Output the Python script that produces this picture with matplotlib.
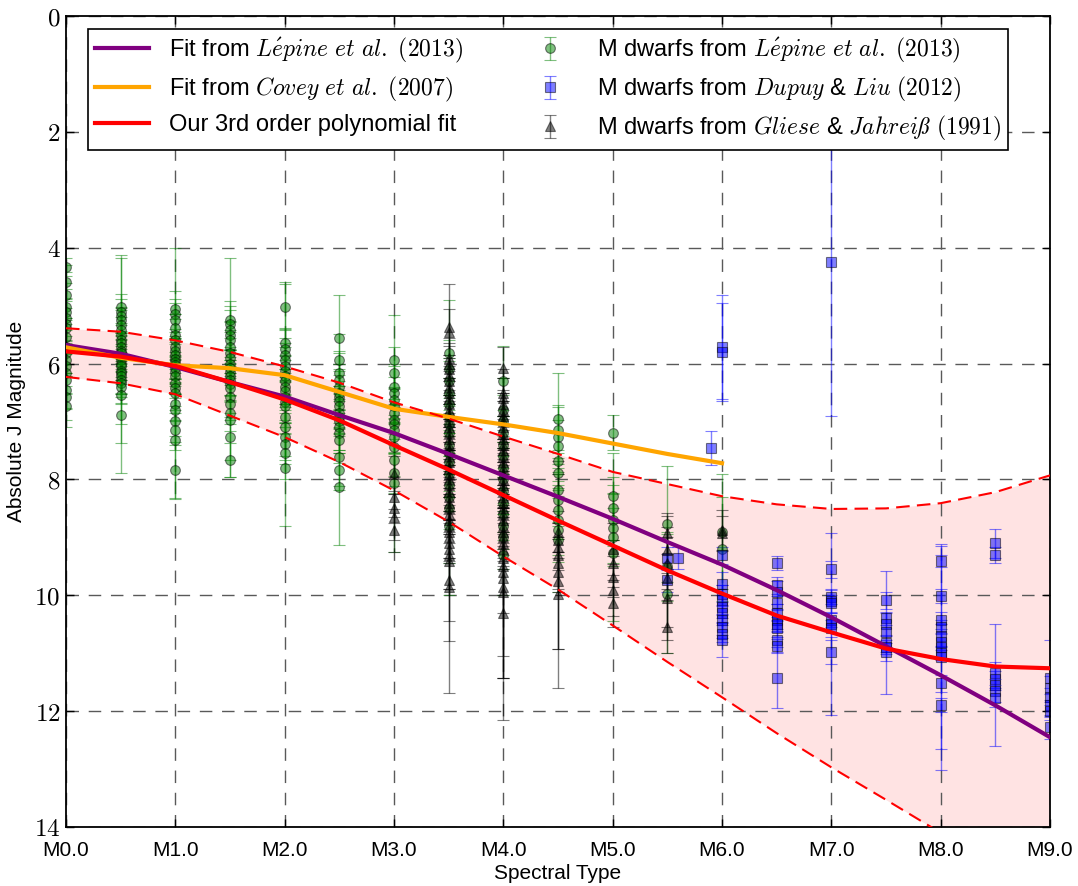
import numpy as np
import matplotlib
matplotlib.use('Agg')
import matplotlib.pyplot as plt
from matplotlib.ticker import FuncFormatter

# fit curves at every half subtype
fit_spt = [0.0, 0.5, 1.0, 1.5, 2.0, 2.5, 3.0, 3.5, 4.0, 4.5, 5.0, 5.5, 6.0, 6.5, 7.0, 7.5, 8.0, 8.5, 9.0]
lepine_fit = [5.68, 5.83, 6.06, 6.32, 6.57, 6.89, 7.20, 7.56, 7.93, 8.30, 8.68, 9.08, 9.47, 9.91, 10.38, 10.88, 11.38, 11.90, 12.45]
our_fit = [5.79, 5.88, 6.04, 6.32, 6.62, 6.98, 7.41, 7.83, 8.27, 8.71, 9.14, 9.57, 9.97, 10.35, 10.64, 10.92, 11.10, 11.23, 11.26]
our_upper = [5.39, 5.45, 5.60, 5.80, 6.05, 6.33, 6.67, 6.95, 7.26, 7.56, 7.87, 8.08, 8.29, 8.43, 8.51, 8.50, 8.41, 8.22, 7.93]
our_lower = [6.23, 6.34, 6.53, 6.90, 7.27, 7.70, 8.19, 8.73, 9.33, 9.90, 10.52, 11.15, 11.76, 12.38, 12.97, 13.53, 14.10, 14.70, 15.30]
covey_spt = [0.0, 0.5, 1.0, 1.5, 2.0, 2.5, 3.0, 3.5, 4.0, 4.5, 5.0, 5.5, 6.0]
covey_fit = [5.72, 5.90, 6.03, 6.08, 6.20, 6.49, 6.78, 6.92, 7.05, 7.20, 7.38, 7.56, 7.72]

# Lepine et al. (2013) M dwarfs
lepine_spt = [0.0, 0.5, 1.0, 1.5, 2.0, 2.5, 3.0, 3.5, 4.0, 4.5, 5.0, 5.5, 6.0]
lepine_mj = [
    [4.33, 4.59, 4.82, 5.02, 5.11, 5.22, 5.31, 5.39, 5.54, 5.71, 5.82, 5.94, 6.05, 6.17, 6.28, 6.46, 6.57, 6.74],
    [5.02, 5.11, 5.18, 5.25, 5.33, 5.42, 5.50, 5.59, 5.65, 5.71, 5.78, 5.82, 5.88, 5.94, 6.00, 6.05, 6.12, 6.17, 6.22, 6.28, 6.34, 6.40, 6.54, 6.89],
    [5.05, 5.15, 5.25, 5.39, 5.50, 5.59, 5.71, 5.78, 5.85, 5.92, 5.97, 6.03, 6.08, 6.15, 6.22, 6.34, 6.42, 6.51, 6.69, 6.80, 7.00, 7.15, 7.32, 7.84],
    [5.25, 5.32, 5.42, 5.50, 5.59, 5.71, 5.82, 5.90, 6.00, 6.07, 6.14, 6.22, 6.28, 6.35, 6.43, 6.57, 6.69, 6.86, 6.97, 7.26, 7.66],
    [5.02, 5.65, 5.74, 5.85, 5.94, 6.05, 6.12, 6.22, 6.30, 6.40, 6.48, 6.57, 6.66, 6.74, 6.92, 7.09, 7.26, 7.38, 7.55, 7.81],
    [5.56, 5.94, 6.17, 6.28, 6.40, 6.50, 6.57, 6.65, 6.74, 6.85, 6.92, 7.00, 7.09, 7.20, 7.32, 7.61, 7.84, 8.13],
    [5.94, 6.17, 6.40, 6.51, 6.63, 6.74, 6.86, 6.97, 7.05, 7.15, 7.26, 7.44, 7.66, 7.89, 8.07],
    [5.82, 6.10, 6.30, 6.50, 6.70, 6.90, 7.05, 7.20, 7.40, 7.55, 7.70, 7.90, 8.10, 8.30, 8.50, 8.80],
    [6.30, 6.80, 7.00, 7.20, 7.40, 7.60, 7.80, 8.00, 8.20, 8.40, 8.60, 8.80, 9.00, 9.30],
    [6.95, 7.15, 7.26, 7.43, 7.69, 7.89, 8.18, 8.35, 8.53, 8.70, 8.87, 9.04],
    [7.19, 8.29, 8.50, 8.70, 8.84, 8.99, 9.27],
    [8.77, 9.50, 9.97],
    [8.90, 9.20],
]
lepine_err = [
    [0.15, 0.30, 0.40, 0.30, 0.50, 0.30, 0.45, 0.35, 0.30, 0.50, 0.40, 0.30, 0.45, 0.35, 0.50, 0.30, 0.40, 0.35],
    [0.85, 0.98, 0.30, 0.45, 0.25, 0.40, 0.30, 0.55, 0.35, 0.25, 0.45, 0.30, 0.40, 0.35, 0.50, 0.30, 0.45, 0.35, 0.30, 0.40, 0.35, 0.97, 0.50, 1.00],
    [1.04, 0.40, 0.30, 0.50, 0.35, 0.45, 0.30, 0.55, 0.40, 0.35, 0.30, 0.50, 0.45, 0.35, 0.30, 0.40, 0.55, 0.35, 0.30, 0.45, 0.40, 0.35, 1.00, 0.49],
    [1.07, 0.40, 0.35, 0.50, 0.30, 0.45, 0.40, 0.35, 0.55, 0.30, 0.40, 0.45, 0.35, 0.30, 0.50, 0.40, 0.35, 0.30, 0.98, 0.40, 0.29],
    [0.40, 1.05, 0.35, 0.45, 0.30, 0.50, 0.40, 0.35, 0.45, 0.30, 0.55, 0.40, 0.35, 0.45, 0.30, 0.50, 0.40, 0.35, 0.45, 1.00],
    [0.74, 0.45, 0.35, 0.50, 0.40, 0.30, 0.45, 0.55, 0.35, 0.40, 0.30, 0.50, 0.45, 0.35, 0.40, 0.50, 0.35, 1.00],
    [0.78, 0.45, 0.35, 0.50, 0.40, 0.30, 0.45, 0.55, 0.35, 0.40, 0.30, 0.50, 0.45, 0.35, 1.18],
    [0.92, 0.50, 0.40, 0.55, 0.45, 0.35, 0.50, 0.40, 0.45, 0.35, 0.50, 0.40, 0.45, 0.55, 0.95, 1.20],
    [0.60, 0.55, 0.45, 0.40, 0.50, 0.35, 0.45, 0.55, 0.40, 0.50, 0.45, 0.40, 0.55, 0.70],
    [0.78, 0.40, 0.55, 0.45, 0.50, 0.40, 0.55, 0.45, 0.50, 0.60, 0.55, 0.90],
    [0.30, 0.75, 0.55, 0.45, 0.60, 0.50, 1.18],
    [1.00, 0.60, 1.03],
    [1.00, 0.90],
]

# Dupuy & Liu (2012) M dwarfs
dupuy_spt = [5.5, 5.6, 5.9, 6.0, 6.5, 7.0, 7.5, 8.0, 8.5, 9.0]
dupuy_mj = [
    [9.36, 9.74],
    [9.36],
    [7.46],
    [5.72, 5.80, 9.31, 9.80, 9.97, 10.08, 10.20, 10.31, 10.43, 10.54, 10.66, 10.77],
    [9.45, 9.83, 9.95, 10.14, 10.30, 10.43, 10.50, 10.57, 10.78, 10.87, 11.42],
    [4.25, 9.55, 10.03, 10.10, 10.14, 10.43, 10.50, 10.57, 10.98],
    [10.09, 10.40, 10.50, 10.64, 10.83, 10.90, 10.98],
    [9.41, 10.02, 10.43, 10.55, 10.70, 10.80, 10.90, 11.00, 11.07, 11.52, 11.90],
    [9.10, 9.31, 11.35, 11.45, 11.55, 11.65, 11.78],
    [11.42, 11.60, 11.75, 11.90, 12.00, 12.28],
]
dupuy_err = [
    [0.20, 0.20],
    [0.19],
    [0.29],
    [0.90, 0.85, 0.15, 0.20, 0.15, 0.25, 0.20, 0.15, 0.25, 0.20, 0.15, 0.29],
    [0.12, 0.15, 0.20, 0.12, 0.15, 0.20, 0.12, 0.15, 0.20, 0.12, 0.53],
    [2.65, 0.15, 0.12, 0.20, 0.15, 0.12, 1.57, 0.15, 0.20],
    [0.15, 0.12, 0.20, 1.06, 0.15, 0.12, 0.15],
    [0.10, 0.12, 0.15, 0.12, 0.20, 0.15, 1.75, 0.12, 1.95, 0.15, 0.12],
    [0.25, 0.14, 0.20, 0.15, 1.06, 0.20, 0.15],
    [0.65, 0.20, 0.15, 0.20, 0.15, 0.20],
]

# Gliese & Jahreiss (1991) M dwarfs
gliese_spt = [3.0, 3.5, 4.0, 4.5, 5.0, 5.5, 6.0]
gliese_mj = [
    [7.90, 8.30, 8.50, 8.65, 8.88],
    [5.37, 5.45, 5.90, 6.00, 6.10, 6.20, 6.30, 6.40, 6.50, 6.60, 6.70, 6.80, 6.90, 7.00, 7.10, 7.20, 7.30,
     7.40, 7.50, 7.60, 7.70, 7.80, 7.90, 8.00, 8.10, 8.20, 8.30, 8.40, 8.50, 8.60, 8.70, 8.80, 8.90,
     9.00, 9.10, 9.20, 9.30, 9.40, 9.74, 9.85],
    [6.08, 6.50, 6.60, 6.70, 6.80, 6.90, 7.00, 7.10, 7.20, 7.30, 7.40, 7.50, 7.60, 7.70, 7.80, 7.90, 8.00,
     8.10, 8.20, 8.30, 8.40, 8.50, 8.60, 8.70, 8.80, 8.90, 9.00, 9.10, 9.20, 9.35, 9.50, 9.60, 9.70,
     9.85, 9.95, 10.30],
    [8.90, 9.05, 9.16, 9.30, 9.45, 9.60, 9.75, 9.97],
    [9.20, 9.45, 9.68, 9.91, 10.14],
    [8.93, 9.22, 9.45, 9.70, 10.05, 10.54],
    [8.87, 8.93],
]
gliese_err = [
    [0.30, 0.35, 0.25, 0.40, 0.37],
    [0.75, 0.40, 0.35, 0.30, 0.45, 0.35, 0.40, 0.30, 0.45, 0.35, 0.40, 0.30, 0.45, 0.35, 0.40, 0.30, 0.45,
     0.35, 0.40, 0.30, 0.45, 0.35, 0.40, 0.30, 0.45, 0.35, 0.40, 0.30, 0.45, 0.35, 0.40, 0.55, 0.45,
     0.40, 0.35, 1.25, 0.60, 0.50, 1.05, 1.84],
    [0.37, 0.40, 0.35, 0.45, 0.30, 0.40, 0.35, 0.45, 0.30, 0.40, 0.35, 0.45, 0.30, 0.40, 0.35, 0.45, 0.30,
     0.40, 0.35, 0.45, 0.30, 0.40, 0.35, 0.45, 0.30, 0.40, 0.35, 0.45, 0.30, 1.70, 1.93, 0.40, 1.73,
     0.45, 1.48, 1.85],
    [0.35, 0.30, 0.40, 1.62, 0.45, 0.35, 1.85, 0.95],
    [0.45, 0.40, 0.35, 0.45, 0.40],
    [0.35, 0.40, 0.45, 1.07, 0.50, 0.46],
    [0.35, 0.30],
]

spt_ticks = [0, 1, 2, 3, 4, 5, 6, 7, 8, 9]
spt_labels = ['M0.0', 'M1.0', 'M2.0', 'M3.0', 'M4.0', 'M5.0', 'M6.0', 'M7.0', 'M8.0', 'M9.0']
mag_ticks = [0, 2, 4, 6, 8, 10, 12, 14]


def flatten(spt, mags, errs):
    x, y, e = [], [], []
    for s, m, er in zip(spt, mags, errs):
        x += [s] * len(m)
        y += m
        e += er
    return np.array(x), np.array(y), np.array(e)


plt.rcParams['font.family'] = ['Liberation Sans', 'DejaVu Sans']
plt.rcParams['mathtext.fontset'] = 'cm'

fig = plt.figure(figsize=(10.78, 8.86), dpi=100)
ax = fig.add_axes([66 / 1078, 59 / 886, 984 / 1078, 811 / 886])

ax.fill_between(fit_spt, our_lower, our_upper, color='red', alpha=0.11, lw=0, zorder=1)

# 数据点
lx, ly, le = flatten(lepine_spt, lepine_mj, lepine_err)
dx, dy, de = flatten(dupuy_spt, dupuy_mj, dupuy_err)
gx, gy, ge = flatten(gliese_spt, gliese_mj, gliese_err)
eb_kw = dict(alpha=0.5, capsize=4.5, elinewidth=1, capthick=1, mec='k', mew=0.8, zorder=2)
h_lep = ax.errorbar(lx, ly, yerr=le, fmt='o', color='green', ms=7, **eb_kw)
h_dup = ax.errorbar(dx, dy, yerr=de, fmt='s', color='blue', ms=7, **eb_kw)
h_gli = ax.errorbar(gx, gy, yerr=ge, fmt='^', color='black', ms=7.5, **eb_kw)

# fits
h1, = ax.plot(fit_spt, lepine_fit, color='purple', lw=3, zorder=3)
h2, = ax.plot(covey_spt, covey_fit, color='orange', lw=3, zorder=3)
ax.plot(fit_spt, our_upper, color='red', lw=1.5, ls=(0, (6.5, 3.5)), zorder=3)
ax.plot(fit_spt, our_lower, color='red', lw=1.5, ls=(0, (6.5, 3.5)), zorder=3)
h3, = ax.plot(fit_spt, our_fit, color='red', lw=3, zorder=3)

ax.set_xlim(0, 9)
ax.set_ylim(14, 0)
ax.set_xticks(spt_ticks, spt_labels)
ax.set_yticks(mag_ticks)
ax.yaxis.set_major_formatter(FuncFormatter(lambda v, p: f'${v:g}$'))
ax.tick_params(direction='in', length=6, width=1, top=True, right=True)
ax.tick_params(axis='x', labelsize=15, pad=10)
ax.tick_params(axis='y', labelsize=18, pad=4)
for sp in ax.spines.values():
    sp.set_linewidth(1.3)
ax.grid(True, color='0.35', lw=1, ls=(0, (9, 7)))

ax.set_xlabel('Spectral Type', fontsize=15, labelpad=3)
ax.set_ylabel('Absolute J Magnitude', fontsize=15, labelpad=6)

labels = [
    r'Fit from $L\acute{e}pine\ et\ al.$ $(2013)$',
    r'Fit from $Covey\ et\ al.$ $(2007)$',
    'Our 3rd order polynomial fit',
    r'M dwarfs from $L\acute{e}pine\ et\ al.$ $(2013)$',
    r'M dwarfs from $Dupuy$ & $Liu$ $(2012)$',
    r'M dwarfs from $Gliese$ & $Jahreiß$ $(1991)$',
]
leg = ax.legend([h1, h2, h3, h_lep, h_dup, h_gli], labels, ncol=2, loc='upper left',
                bbox_to_anchor=(22 / 984, 1 - 13 / 811), borderaxespad=0, fontsize=17,
                fancybox=False, framealpha=1, edgecolor='k', numpoints=1,
                handlelength=2.3, handletextpad=0.85, columnspacing=2.5,
                labelspacing=0.42, borderpad=0.3)
leg.get_frame().set_linewidth(1.2)

fig.savefig('out.png', dpi=100)
